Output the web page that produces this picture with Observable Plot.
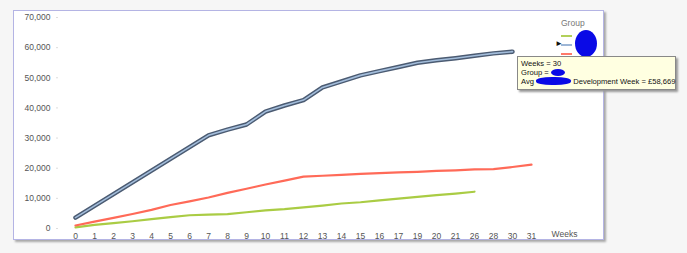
<!DOCTYPE html>
<html>
<head>
<meta charset="utf-8">
<script src="https://cdn.jsdelivr.net/npm/d3@7"></script>
<script src="https://cdn.jsdelivr.net/npm/@observablehq/plot@0.6"></script>
<style>
  html, body { margin: 0; padding: 0; background: #f6f6f6; font-family: "Liberation Sans", Arial, sans-serif; }
  #wrap { position: relative; width: 687px; height: 253px; overflow: hidden; }
  #frame { position: absolute; left: 13px; top: 10px; width: 589px; height: 228px; background: #fff;
           border: 1px solid #b4b4e4; box-shadow: 2px 2px 2px #a8a8a8; }
  #chart { position: absolute; left: 0; top: 0; }
  .abs { position: absolute; }
  #legendTitle { left: 561px; top: 18px; font-size: 8.5px; color: #777; }
  .lg { position: absolute; left: 561px; width: 11px; height: 2px; }
  .blob { position: absolute; background: #0a0ae6; border-radius: 50%; }
  #tip { left: 517px; top: 56px; width: 159px; height: 34px; background: #ffffe1; border: 1px solid #888;
         box-shadow: 2px 2px 2px #999; font-size: 7.6px; color: #111; line-height: 8.6px; padding: 3px 0 0 3px;
         box-sizing: border-box; white-space: nowrap; }
</style>
</head>
<body>
<div id="wrap">
  <div id="frame"></div>
  <div id="chart"></div>
  <div id="legendTitle" class="abs">Group</div>
  <div class="lg" style="top:35px;background:#b2d05a;"></div>
  <div class="lg" style="top:44px;background:#9db6d6;"></div>
  <div class="lg" style="top:53px;background:#ff7a6a;"></div>
  <div class="abs" style="left:555px;top:39px;font-size:8px;color:#111;">&#9658;</div>
  <div class="blob" style="left:575px;top:30px;width:22px;height:27px;"></div>
  <div id="tip" class="abs">
    <div>Weeks = 30</div>
    <div>Group = <span style="display:inline-block;width:14px;height:7px;background:#0a0ae6;border-radius:50%;vertical-align:-1px"></span></div>
    <div>Avg <span style="display:inline-block;width:35px;height:8px;background:#0a0ae6;border-radius:45%;vertical-align:-1px"></span> Development Week = £58,669</div>
  </div>
</div>
<script>
const weeks = ["0","1","2","3","4","5","6","7","8","9","10","11","12","13","14","15","16","17","19","20","21","26","28","30","31"];
const blueValues = [3600, 7500, 11400, 15300, 19200, 23100, 27000, 30900, 32800, 34500, 38800, 40800, 42600, 46800, 48800, 50800, 52200, 53600, 55000, 55800, 56500, 57300, 58100, 58669, null];
const redValues = [1000, 2300, 3500, 4800, 6200, 7800, 9000, 10300, 11800, 13200, 14600, 15900, 17200, 17500, 17800, 18100, 18400, 18600, 18800, 19100, 19300, 19600, 19700, 20400, 21200];
const greenValues = [400, 1200, 1800, 2400, 3100, 3800, 4400, 4600, 4800, 5400, 6000, 6400, 7000, 7600, 8300, 8700, 9300, 9900, 10500, 11100, 11600, 12200, null, null, null];
const yTicks = [0, 10000, 20000, 30000, 40000, 50000, 60000, 70000];

const rows = vals => weeks.map((w, i) => ({week: w, value: vals[i]})).filter(d => d.value != null);
const blue = rows(blueValues), red = rows(redValues), green = rows(greenValues);

const fmt = d3.format(",");
const plot = Plot.plot({
  width: 687,
  height: 253,
  marginLeft: 72,
  marginRight: 154,
  marginTop: 17,
  marginBottom: 25,
  style: {background: "transparent", fontFamily: "'Liberation Sans', Arial, sans-serif", fontSize: "8.5px", color: "#555"},
  x: {type: "point", domain: weeks, padding: 0},
  y: {domain: [0, 70000]},
  marks: [
    Plot.axisY({ticks: yTicks, tickFormat: fmt, dx: -14, tickSize: 2, tickPadding: 6, stroke: "#ddd", label: null, fill: "#555", fontSize: 8.5}),
    Plot.axisX({tickSize: 0, tickPadding: 4, label: null, fill: "#555", fontSize: 8.5}),
    Plot.text(["Weeks"], {frameAnchor: "bottom-right", dx: 31, dy: 8, textAnchor: "middle", fill: "#555", fontSize: 8.5}),
    Plot.line(green, {x: "week", y: "value", stroke: "#aacc44", strokeWidth: 2.2}),
    Plot.line(red, {x: "week", y: "value", stroke: "#ff6a58", strokeWidth: 2.2}),
    Plot.line(blue, {x: "week", y: "value", stroke: "#4b5b72", strokeWidth: 4.5}),
    Plot.line(blue, {x: "week", y: "value", stroke: "#a3bddb", strokeWidth: 1.6})
  ]
});
document.getElementById("chart").appendChild(plot);
</script>
</body>
</html>
